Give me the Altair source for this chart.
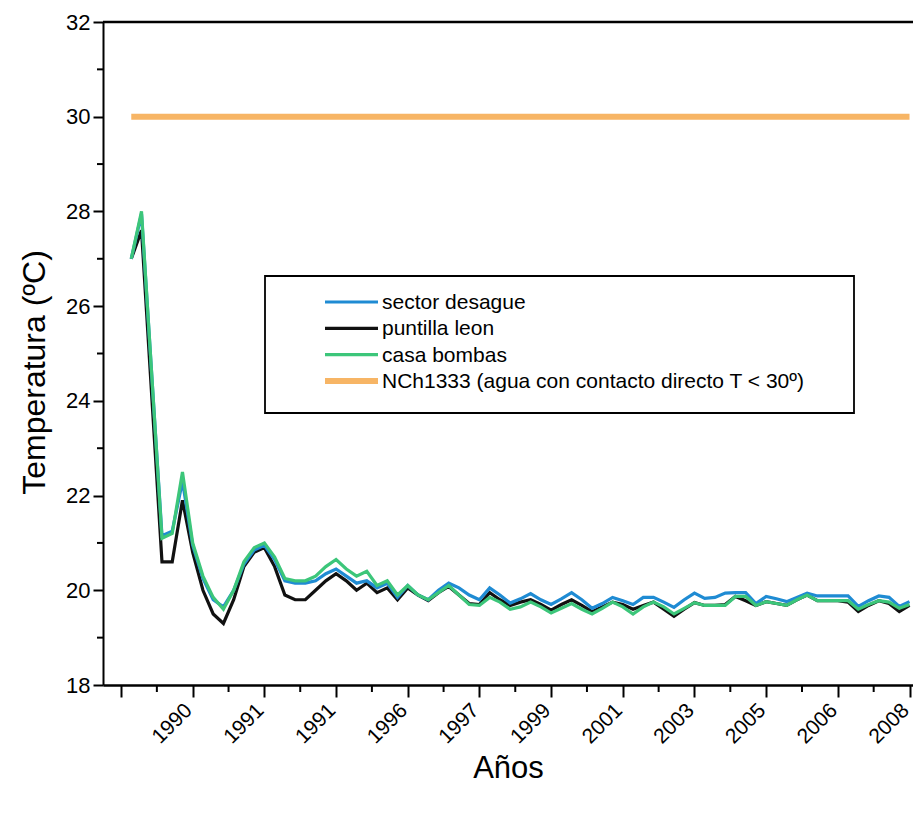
import altair as alt
import pandas as pd

# ---------------- data ----------------
idx = [1, 2, 4, 5, 6, 7, 8, 9, 10, 11, 12, 13, 14, 15, 16, 17, 18, 19, 20,
       21, 22, 23, 24, 25, 26, 27, 28, 29, 30, 31, 32, 33, 34, 35, 36, 37, 38,
       39, 40, 41, 42, 43, 44, 45, 46, 47, 48, 49, 50, 51, 52, 53, 54, 55, 56,
       57, 58, 59, 60, 61, 62, 63, 64, 65, 66, 67, 68, 69, 70, 71, 72, 73, 74,
       75, 76, 77]

sector_desague = [27.0, 27.95, 21.15, 21.25, 22.3, 20.95, 20.25, 19.8, 19.65, 20.0,
                  20.55, 20.85, 20.95, 20.65, 20.2, 20.15, 20.15, 20.2, 20.35, 20.45,
                  20.3, 20.15, 20.2, 20.05, 20.15, 19.85, 20.1, 19.9, 19.8, 20.0,
                  20.15, 20.05, 19.9, 19.8, 20.05, 19.9, 19.73, 19.82, 19.93, 19.8,
                  19.7, 19.82, 19.95, 19.8, 19.62, 19.72, 19.85, 19.78, 19.7, 19.85,
                  19.85, 19.75, 19.64, 19.8, 19.94, 19.83, 19.85, 19.94, 19.95, 19.95,
                  19.72, 19.87, 19.82, 19.76, 19.85, 19.94, 19.88, 19.88, 19.88, 19.88,
                  19.66, 19.78, 19.88, 19.85, 19.66, 19.76]

puntilla_leon = [27.0, 27.6, 20.6, 20.6, 21.9, 20.8, 20.0, 19.5, 19.3, 19.8,
                 20.5, 20.8, 20.9, 20.5, 19.9, 19.8, 19.8, 20.0, 20.2, 20.35,
                 20.2, 20.0, 20.15, 19.95, 20.05, 19.8, 20.05, 19.9, 19.78, 19.95,
                 20.08, 19.9, 19.72, 19.7, 19.95, 19.8, 19.68, 19.75, 19.8, 19.7,
                 19.58, 19.7, 19.8, 19.68, 19.55, 19.65, 19.75, 19.7, 19.6, 19.68,
                 19.75, 19.6, 19.45, 19.6, 19.74, 19.68, 19.68, 19.7, 19.87, 19.78,
                 19.68, 19.76, 19.72, 19.68, 19.8, 19.9, 19.78, 19.78, 19.78, 19.75,
                 19.55, 19.68, 19.78, 19.72, 19.55, 19.68]

casa_bombas = [27.0, 28.0, 21.1, 21.2, 22.5, 21.0, 20.3, 19.85, 19.6, 20.0,
               20.6, 20.9, 21.0, 20.7, 20.25, 20.2, 20.2, 20.3, 20.5, 20.65,
               20.45, 20.3, 20.4, 20.1, 20.2, 19.9, 20.1, 19.9, 19.8, 19.95,
               20.1, 19.9, 19.7, 19.68, 19.85, 19.75, 19.6, 19.65, 19.75, 19.65,
               19.52, 19.62, 19.72, 19.6, 19.5, 19.62, 19.75, 19.65, 19.5, 19.65,
               19.75, 19.65, 19.5, 19.62, 19.74, 19.68, 19.68, 19.68, 19.87, 19.87,
               19.68, 19.76, 19.72, 19.68, 19.8, 19.9, 19.78, 19.78, 19.78, 19.78,
               19.6, 19.7, 19.78, 19.75, 19.62, 19.7]

norma_idx = [1, 77]
norma_val = [30.0, 30.0]

series_names = ["sector desague", "puntilla leon", "casa bombas",
                "NCh1333 (agua con contacto directo T < 30º)"]
series_colors = ["#1f8bd3", "#111111", "#3cc67a", "#f7b565"]
series_widths = [3.2, 3.2, 3.2, 6]

x_tick_values = [0, 7, 14, 21, 28, 35, 42, 49, 56, 63, 70, 77]
x_tick_labels = ["", "1990", "1991", "1991", "1996", "1997", "1999", "2001",
                 "2003", "2005", "2006", "2008"]
x_minor_ticks = [3.5, 10.5, 17.5, 24.5, 31.5, 38.5, 45.5, 52.5, 59.5, 66.5, 73.5]
y_tick_values = [18, 20, 22, 24, 26, 28, 30, 32]
y_minor_ticks = [19, 21, 23, 25, 27, 29, 31]

# ---------------- build tables ----------------
rows = []
for name, vals in zip(series_names[:3], [sector_desague, puntilla_leon, casa_bombas]):
    for i, v in zip(idx, vals):
        rows.append({"idx": i, "temp": v, "series": name})
for i, v in zip(norma_idx, norma_val):
    rows.append({"idx": i, "temp": v, "series": series_names[3]})
df = pd.DataFrame(rows)

FONT = "Liberation Sans"
W, H = 810, 663

label_expr = "[" + ",".join("'%s'" % l for l in x_tick_labels) + "][round(datum.value/7)]"

xscale = alt.Scale(domain=[-1.76, 77.34], nice=False, zero=False)
yscale = alt.Scale(domain=[18, 32], nice=False, zero=False)

x_enc = alt.X("idx:Q", scale=xscale,
              axis=alt.Axis(values=x_tick_values, labelExpr=label_expr, title="Años",
                            labelAngle=315, labelAlign="right", labelBaseline="bottom",
                            labelFontSize=21, labelPadding=17, labelOffset=3,
                            tickSize=12, tickWidth=2,
                            domainWidth=2.5, grid=False, titleFontSize=31,
                            titleFontWeight="normal", titlePadding=6, labelFlush=False,
                            labelOverlap=False, labelBound=False))
y_enc = alt.Y("temp:Q", scale=yscale,
              axis=alt.Axis(values=y_tick_values, title="Temperatura (ºC)", labelFontSize=22,
                            labelPadding=3, tickSize=10, tickWidth=2, domainWidth=2,
                            grid=False, titleFontSize=32, titleFontWeight="normal",
                            titlePadding=14, titleY=350, labelFlush=False))

color_scale = alt.Scale(domain=series_names, range=series_colors)


def series_line(k):
    name = series_names[k]
    return alt.Chart(df).transform_filter(alt.datum.series == name).mark_line(
        strokeJoin="miter", strokeCap="butt", strokeWidth=series_widths[k]
    ).encode(
        x=x_enc,
        y=y_enc,
        color=alt.Color("series:N", scale=color_scale, legend=None),
    )


one = pd.DataFrame({"a": [0]})

# legend frame and entries (decoration)
frame = alt.Chart(one).mark_rect(
    fill="white", stroke="black", strokeWidth=1.8
).encode(x=alt.value(162), x2=alt.value(751), y=alt.value(254), y2=alt.value(391))

legend_layers = []
for k, name in enumerate(series_names):
    yk = 280 + 26.3 * k
    legend_layers.append(
        alt.Chart(one).mark_rule(color=series_colors[k], strokeWidth=series_widths[k]).encode(
            x=alt.value(222), x2=alt.value(275), y=alt.value(yk), y2=alt.value(yk))
    )
    legend_layers.append(
        alt.Chart(one).mark_text(align="left", baseline="middle", font=FONT,
                                 fontSize=21, color="black", text=name).encode(
            x=alt.value(279), y=alt.value(yk + 1))
    )

top_rule = alt.Chart(pd.DataFrame({"v": [max(y_tick_values)]})).mark_rule(
    color="black", strokeWidth=2.5
).encode(y=alt.Y("v:Q", scale=yscale))

y_minor = alt.Chart(pd.DataFrame({"v": y_minor_ticks})).mark_rule(
    color="black", strokeWidth=2
).encode(y=alt.Y("v:Q", scale=yscale), x=alt.value(-6), x2=alt.value(0))

x_minor = alt.Chart(pd.DataFrame({"v": x_minor_ticks})).mark_rule(
    color="black", strokeWidth=2
).encode(x=alt.X("v:Q", scale=xscale), y=alt.value(H), y2=alt.value(H + 7))

chart = alt.layer(
    frame,
    series_line(1),
    series_line(0),
    series_line(2),
    series_line(3),
    *legend_layers,
    top_rule,
    y_minor,
    x_minor,
).properties(
    width=W, height=H,
    autosize=alt.AutoSizeParams(type="none"),
    padding={"left": 95, "top": 14, "right": 0, "bottom": 110},
).configure_view(stroke=None).configure_axis(
    labelFont=FONT, titleFont=FONT, labelColor="black", titleColor="black",
    tickColor="black", domainColor="black"
)

chart.save("out.html", embed_options={"renderer": "svg", "actions": False})
